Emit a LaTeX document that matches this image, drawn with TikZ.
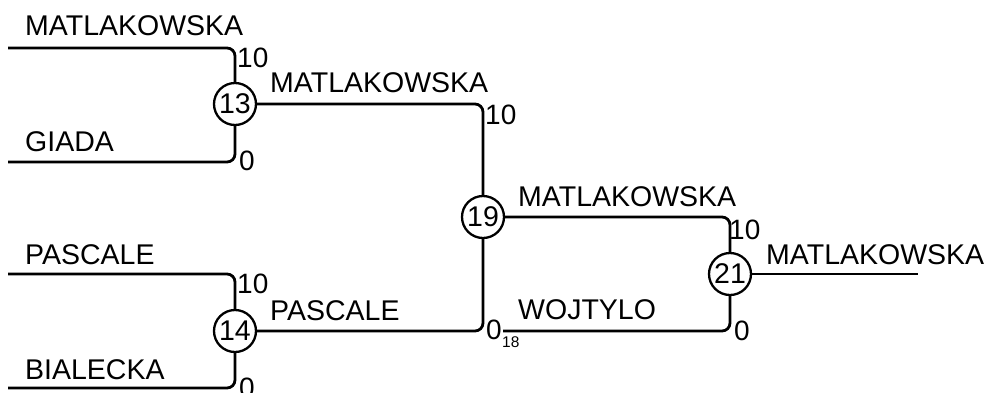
\documentclass[tikz,border=0pt]{standalone}
\usepackage{fontspec}
\setmainfont{Liberation Sans}
\begin{document}
\begin{tikzpicture}[x=1pt,y=-1pt,
  ln/.style={line width=2.8pt,rounded corners=8pt},
  mt/.style={circle,draw,line width=2.3pt,minimum size=42pt,inner sep=0pt,font=\fontsize{28.5}{28}\selectfont},
  nm/.style={anchor=base west,inner sep=0pt,font=\fontsize{28.5}{30}\selectfont},
  sc/.style={anchor=base west,inner sep=0pt,font=\fontsize{28}{28}\selectfont},
  sb/.style={anchor=base west,inner sep=0pt,font=\fontsize{15.5}{16}\selectfont}]
\useasboundingbox (0,0) rectangle (988,392);
\clip (0,0) rectangle (988,392);
% match nodes
\node[mt] (c13) at (235,104) {13};
\node[mt] (c14) at (235,331) {14};
\node[mt] (c19) at (483,217) {19};
\node[mt] (c21) at (730,274) {21};
% entry points
\coordinate (s1) at (8,48);
\coordinate (s2) at (8,162);
\coordinate (s3) at (8,274);
\coordinate (s4) at (8,388);
\coordinate (s5) at (503,331);
\coordinate (e1) at (918,274);
% connectors
\draw[ln] (s1) -| (c13);
\draw[ln] (s2) -| (c13);
\draw[ln] (s3) -| (c14);
\draw[ln] (s4) -| (c14);
\draw[ln] (c13) -| (c19);
\draw[ln] (c14) -| (c19);
\draw[ln] (c19) -| (c21);
\draw[ln] (s5) -| (c21);
\draw[ln] (c21) -- (e1);
% names
\node[nm] (n1) at (25,35) {MATLAKOWSKA};
\node[nm] (n2) at (25,151) {GIADA};
\node[nm] (n3) at (25,264) {PASCALE};
\node[nm] (n4) at (25,379) {BIALECKA};
\node[nm] (n5) at (270,92) {MATLAKOWSKA};
\node[nm] (n6) at (270,320) {PASCALE};
\node[nm] (n7) at (518,206) {MATLAKOWSKA};
\node[nm] (n8) at (518,319) {WOJTYLO};
\node[nm] (n9) at (766,264) {MATLAKOWSKA};
% scores
\node[sc] (p1) at (237,67) {10};
\node[sc] (p2) at (239,170) {0};
\node[sc] (p3) at (237,293) {10};
\node[sc] (p4) at (239,397) {0};
\node[sc] (p5) at (485,124) {10};
\node[sc] (p6) at (486,339) {0};
\node[sb] (p7) at (502,347) {18};
\node[sc] (p8) at (729,239) {10};
\node[sc] (p9) at (734,340) {0};
\end{tikzpicture}
\end{document}
